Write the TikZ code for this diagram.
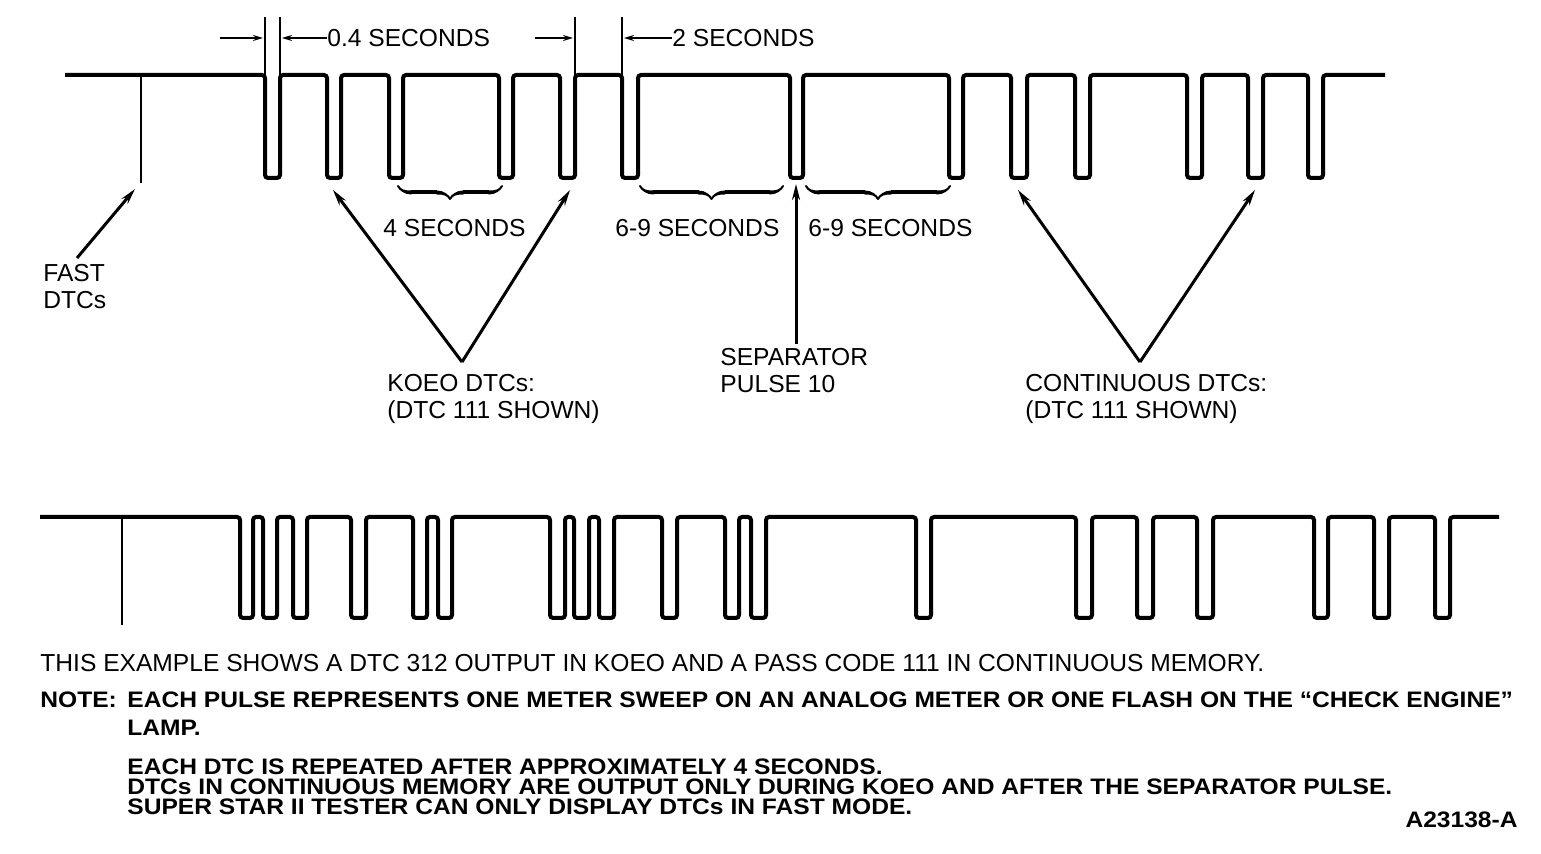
\documentclass[tikz,border=0pt]{standalone}
\usepackage{fontspec}
\setmainfont{Liberation Sans}
\newfontfamily\notefont[FakeStretch=1.098]{Liberation Sans}
\usetikzlibrary{arrows.meta,decorations.pathreplacing,calligraphy}

\begin{document}
\begin{tikzpicture}[x=0.5pt,y=-0.5pt,
    wave/.style={line width=2pt,rounded corners=1.5pt},
    lbl/.style={font=\fontsize{12.3}{13.5}\selectfont,inner sep=0pt,align=left},
    note/.style={font=\notefont\fontsize{11.2}{12}\selectfont\bfseries,inner sep=0pt,anchor=base west},
    ptr/.style={line width=1.5pt,-{Stealth[length=8pt,width=4pt]}},
    dim/.style={line width=1pt,-{Stealth[length=5pt,width=3pt]}},
    brc/.style={decorate,decoration={calligraphic brace,amplitude=6.5pt},line width=2pt}]
    \useasboundingbox (0,0) rectangle (1541,854);
    \draw[wave] (65,75) foreach \a/\b in {265/280,327/341,389/403,499/513,560/575,622/638,
        790/803,949/963,1011/1027,1075/1090,1187/1202,1248/1263,1308/1323}
        { -- (\a,75) -- (\a,178) -- (\b,178) -- (\b,75) } -- (1385,75);
    \draw[line width=1.2pt] (141,75) -- (141,183);
    \foreach \x in {265,280,575,622}
    \draw[line width=1pt] (\x,17) -- (\x,75);
    \node[lbl,anchor=west] (tpt4) at (327,38) {0.4 SECONDS};
    \node[lbl,anchor=west] (ttwo) at (672,38) {2 SECONDS};
    \coordinate (da) at (220,38);
    \coordinate (db) at (535,38);
    \draw[dim] (da) -- (263,38);
    \draw[dim] (tpt4.west) -- (282,38);
    \draw[dim] (db) -- (573,38);
    \draw[dim] (ttwo.west) -- (624,38);
    \draw[brc] (502,186) -- (398,186);
    \draw[brc] (783,186) -- (640,186);
    \draw[brc] (950,186) -- (806,186);
    \node[lbl,anchor=west] (tfour) at (383,228) {4 SECONDS};
    \node[lbl,anchor=west] (tsixa) at (615,228) {6-9 SECONDS};
    \node[lbl,anchor=west] (tsixb) at (808,228) {6-9 SECONDS};
    \node[lbl,anchor=north west] (fastlbl) at (43,264) {FAST\\DTCs};
    \node[lbl,anchor=north west] (koeolbl) at (387,374) {KOEO DTCs:\\(DTC 111 SHOWN)};
    \node[lbl,anchor=north west] (seplbl) at (720,348) {SEPARATOR\\PULSE 10};
    \node[lbl,anchor=north west] (contlbl) at (1025,374) {CONTINUOUS DTCs:\\(DTC 111 SHOWN)};
    \coordinate (fasttip) at (135,189);
    \coordinate (koeoa) at (333,190);
    \coordinate (koeob) at (570,190);
    \coordinate (septip) at (796,184);
    \coordinate (conta) at (1018,190);
    \coordinate (contb) at (1255,190);
    \draw[ptr] ([xshift=17pt,yshift=3pt]fastlbl.north west) -- (fasttip);
    \draw[ptr] ([xshift=37.5pt,yshift=6pt]koeolbl.north west) -- (koeoa);
    \draw[ptr] ([xshift=37.5pt,yshift=6pt]koeolbl.north west) -- (koeob);
    \draw[ptr] ([xshift=38pt,yshift=2pt]seplbl.north west) -- (septip);
    \draw[ptr] ([xshift=57.5pt,yshift=6pt]contlbl.north west) -- (conta);
    \draw[ptr] ([xshift=57.5pt,yshift=6pt]contlbl.north west) -- (contb);
    \draw[wave] (40,517) foreach \a/\b in {240/253,263/277,293/307,351/366,413/427,438/452,
        550/565,574/589,599/614,662/677,725/739,751/766,916/931,
        1076/1092,1137/1153,1197/1213,1314/1328,1374/1389,1435/1450}
        { -- (\a,517) -- (\a,618) -- (\b,618) -- (\b,517) } -- (1499,517);
    \draw[line width=1.2pt] (122,517) -- (122,625);
    \node[lbl,anchor=base west] (expl) at (40,671)
        {THIS EXAMPLE SHOWS A DTC 312 OUTPUT IN KOEO AND A PASS CODE 111 IN CONTINUOUS MEMORY.};
    \node[note] (notehd) at (40,707) {NOTE:};
    \node[note] (notea) at (127,707)
        {EACH PULSE REPRESENTS ONE METER SWEEP ON AN ANALOG METER OR ONE FLASH ON THE “CHECK ENGINE”};
    \node[note] (noteb) at (127,735) {LAMP.};
    \node[note] (notec) at (127,774) {EACH DTC IS REPEATED AFTER APPROXIMATELY 4 SECONDS.};
    \node[note] (noted) at (127,794)
        {DTCs IN CONTINUOUS MEMORY ARE OUTPUT ONLY DURING KOEO AND AFTER THE SEPARATOR PULSE.};
    \node[note] (notee) at (127,814) {SUPER STAR II TESTER CAN ONLY DISPLAY DTCs IN FAST MODE.};
    \node[note,anchor=base east] (figid) at (1518,827) {A23138-A};
\end{tikzpicture}
\end{document}
